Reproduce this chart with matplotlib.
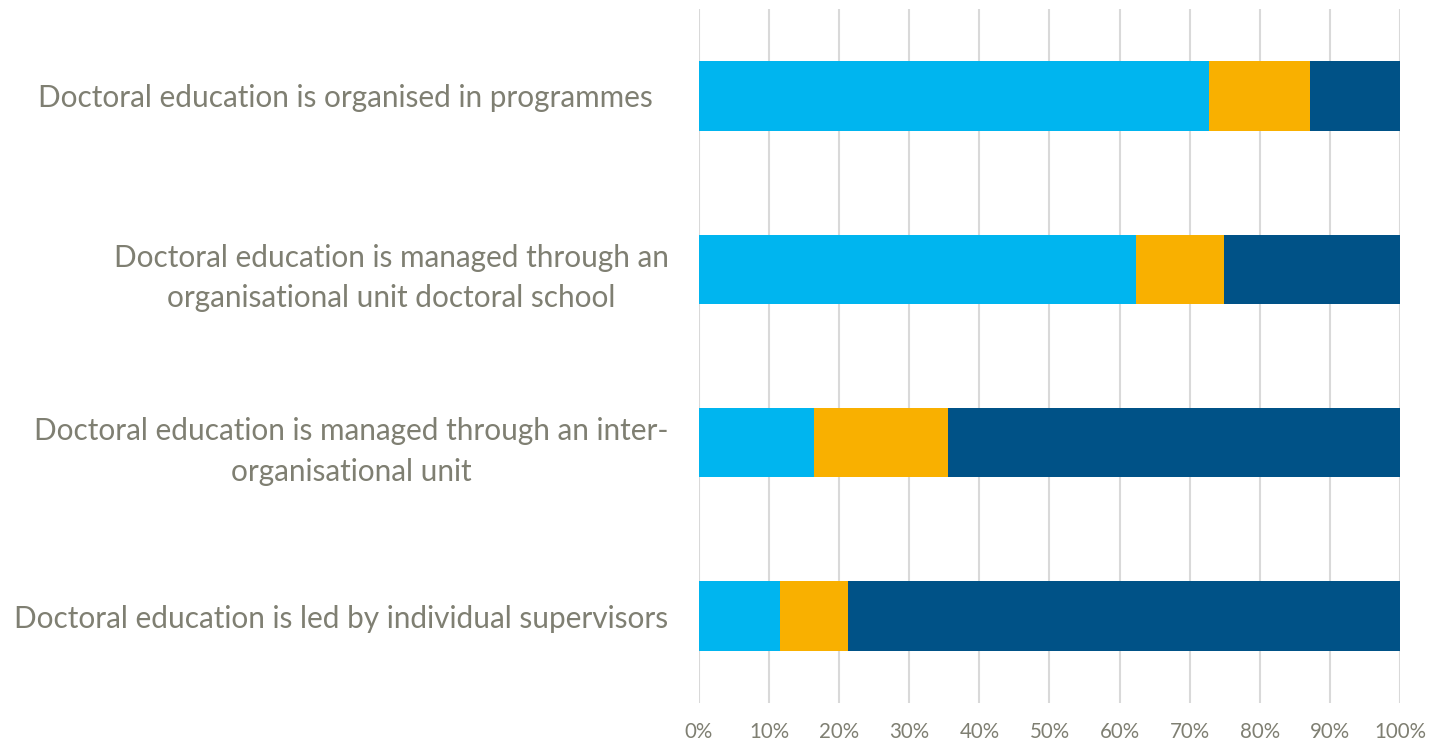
import numpy as np
import matplotlib
matplotlib.use("Agg")
import matplotlib.pyplot as plt

# ---- data (share of institutions, %) ----
categories = [
    "Doctoral education is organised in programmes  ",
    "Doctoral education is managed through an\norganisational unit doctoral school",
    "Doctoral education is managed through an inter-\norganisational unit",
    "Doctoral education is led by individual supervisors",
]
yes_vals = [72.7, 62.3, 16.4, 11.5]
partly_vals = [14.5, 12.6, 19.1, 9.8]
no_vals = [12.8, 25.1, 64.5, 78.7]

series = [yes_vals, partly_vals, no_vals]
colors = ["#00B5EF", "#F9B000", "#005287"]
tick_vals = np.arange(0, 101, 10)
tick_labels = [f"{v}%" for v in tick_vals]

text_col = "#7F7F72"

plt.rcParams['font.family'] = ['Lato', 'DejaVu Sans']

fig = plt.figure(figsize=(14.4, 7.44), dpi=100)
ax = fig.add_axes([0.4854, 0.0555, 0.4868, 0.932])

y = np.arange(len(categories))
left = np.zeros(len(categories))
for vals, col in zip(series, colors):
    ax.barh(y, vals, left=left, height=0.4, color=col, zorder=3)
    left = left + np.array(vals)

ax.set_ylim(len(categories) - 0.5, -0.5)
ax.set_xlim(0, 100)

ax.set_yticks(y)
ax.set_yticklabels(categories, fontsize=21.4, color=text_col,
                   multialignment='center', linespacing=1.55)
ax.set_xticks(tick_vals)
ax.set_xticklabels(tick_labels, fontsize=14.8, color=text_col)
ax.tick_params(axis='y', length=0, pad=22)
ax.tick_params(axis='x', length=0, pad=14)

ax.grid(axis='x', color="#D9D9D9", linewidth=1.5, zorder=0)
for s in ax.spines.values():
    s.set_visible(False)

fig.savefig("out.png", dpi=100, facecolor="white")
